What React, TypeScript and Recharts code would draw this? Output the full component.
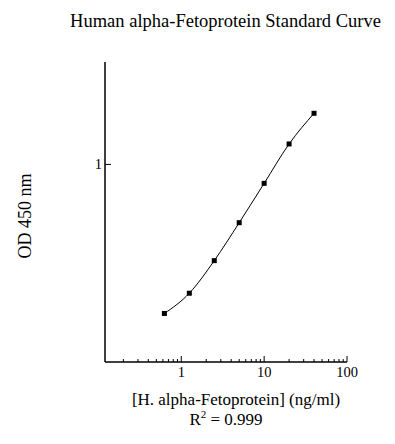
import React from 'react'
import { ComposedChart, Line, XAxis, YAxis } from 'recharts'

document.body.style.margin = '0'

// standard concentrations (ng/ml) and OD 450 readings
const concentrations = [0.625, 1.25, 2.5, 5, 10, 20, 40]
const odValues = [0.202, 0.251, 0.356, 0.535, 0.816, 1.245, 1.73]

const xTicks = [
  0.2, 0.3, 0.4, 0.5, 0.6, 0.7, 0.8, 0.9, 1,
  2, 3, 4, 5, 6, 7, 8, 9, 10,
  20, 30, 40, 50, 60, 70, 80, 90, 100,
]
const xLabels = [1, 10, 100]
const yTicks = [1]

const data = concentrations.map((c, i) => ({ conc: c, od: odValues[i] }))

const font = '"Liberation Serif", "Times New Roman", serif'

function XTick({ x, y, payload }: any) {
  const major = xLabels.includes(payload.value)
  return (
    <g>
      <line x1={x} x2={x} y1={y} y2={y - (major ? 6 : 3)} stroke="#000" strokeWidth={1} />
      {major && (
        <text x={x} y={y + 15} textAnchor="middle" fontSize={14.5} fontFamily={font} fill="#000">
          {payload.value}
        </text>
      )}
    </g>
  )
}

function YTick({ x, y, payload }: any) {
  return (
    <g>
      <line x1={x} x2={x + 6} y1={y} y2={y} stroke="#000" strokeWidth={1} />
      <text x={x - 3} y={y + 5} textAnchor="end" fontSize={14.5} fontFamily={font} fill="#000">
        {payload.value}
      </text>
    </g>
  )
}

function Square({ cx, cy }: any) {
  if (cx == null || cy == null) return null
  return <rect x={cx - 2.5} y={cy - 2.5} width={5} height={5} fill="#000" />
}

export default function App() {
  return (
    <div style={{ position: 'relative', width: 395, height: 444, background: '#fff' }}>
      <ComposedChart width={395} height={444} data={data} margin={{ top: 62, right: 48, left: 0, bottom: 0 }}>
        <XAxis
          dataKey="conc"
          type="number"
          scale="log"
          domain={[0.12, 100]}
          allowDataOverflow
          ticks={xTicks}
          interval={0}
          height={82}
          tickSize={0}
          tickMargin={0}
          tick={<XTick />}
          axisLine={{ stroke: '#000', strokeWidth: 1.5 }}
          tickLine={false}
        />
        <YAxis
          type="number"
          scale="log"
          domain={[0.12, 3]}
          allowDataOverflow
          ticks={yTicks}
          interval={0}
          width={105}
          tickSize={0}
          tickMargin={0}
          tick={<YTick />}
          axisLine={{ stroke: '#000', strokeWidth: 1.5 }}
          tickLine={false}
        />
        <Line
          dataKey="od"
          type="monotone"
          stroke="#000"
          strokeWidth={1}
          dot={<Square />}
          activeDot={false}
          isAnimationActive={false}
        />
      </ComposedChart>
      <svg
        width={395}
        height={444}
        style={{ position: 'absolute', left: 0, top: 0, pointerEvents: 'none' }}
        fontFamily={font}
        fill="#000"
      >
        <text x={225.5} y={27} textAnchor="middle" fontSize={18.5}>
          Human alpha-Fetoprotein Standard Curve
        </text>
        <text x={236} y={405} textAnchor="middle" fontSize={17}>
          [H. alpha-Fetoprotein] (ng/ml)
        </text>
        <text x={226} y={425} textAnchor="middle" fontSize={17}>
          R<tspan fontSize={11} dy={-7}>2</tspan>
          <tspan dy={7}> = 0.999</tspan>
        </text>
        <text x={31} y={216} textAnchor="middle" fontSize={18} transform="rotate(-90 31 216)">
          OD 450 nm
        </text>
      </svg>
    </div>
  )
}
